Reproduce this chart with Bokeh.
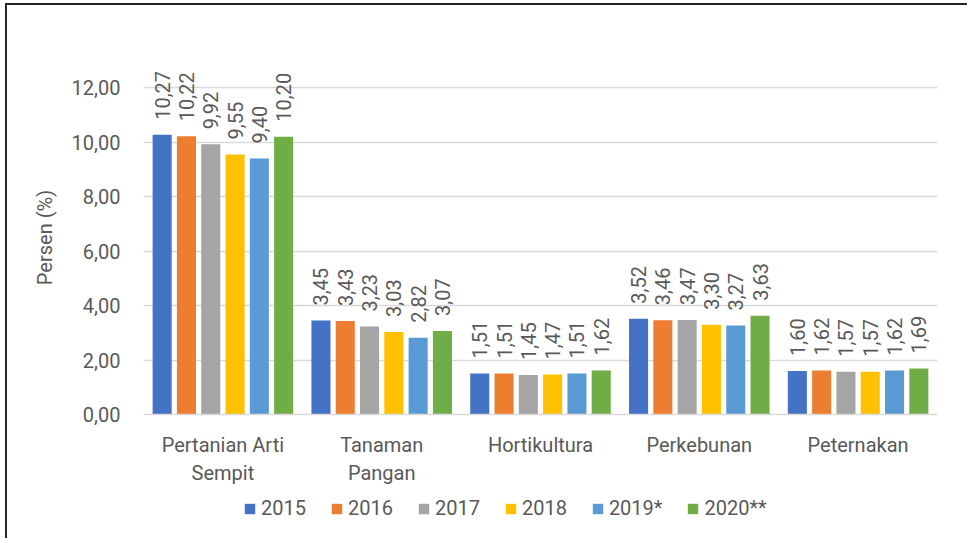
import math
from bokeh.plotting import figure
from bokeh.layouts import column
from bokeh.models import ColumnDataSource, FactorRange, Range1d, FixedTicker, Legend, LegendItem
from bokeh.transform import dodge
from bokeh.core.properties import value
from bokeh.embed import file_html
from bokeh.resources import INLINE

categories = ["Pertanian Arti\nSempit", "Tanaman\nPangan", "Hortikultura", "Perkebunan", "Peternakan"]
years = ["2015", "2016", "2017", "2018", "2019*", "2020**"]
v2015 = [10.27, 3.45, 1.51, 3.52, 1.60]
v2016 = [10.22, 3.43, 1.51, 3.46, 1.62]
v2017 = [9.92, 3.23, 1.45, 3.47, 1.57]
v2018 = [9.55, 3.03, 1.47, 3.30, 1.57]
v2019 = [9.40, 2.82, 1.51, 3.27, 1.62]
v2020 = [10.20, 3.07, 1.62, 3.63, 1.69]
y_ticks = [0, 2, 4, 6, 8, 10, 12]
y_tick_labels = ["0,00", "2,00", "4,00", "6,00", "8,00", "10,00", "12,00"]

series = [v2015, v2016, v2017, v2018, v2019, v2020]
colors = ["#4472C4", "#ED7D31", "#A5A5A5", "#FFC000", "#5B9BD5", "#70AD47"]

FONT = "Roboto"
FS = "20px"
TXT = "#595959"

p = figure(width=960, height=489, output_backend="svg", toolbar_location=None,
           x_range=FactorRange(*categories, range_padding=0),
           y_range=Range1d(0, 13.0),
           min_border_left=136, min_border_right=30, min_border_top=55, min_border_bottom=80)
p.outline_line_color = None
p.xgrid.grid_line_color = None
p.ygrid.grid_line_color = "#D9D9D9"
p.ygrid.grid_line_width = 1.5

p.yaxis.ticker = FixedTicker(ticks=y_ticks)
p.yaxis.major_label_overrides = {t: l for t, l in zip(y_ticks, y_tick_labels)}
p.yaxis.axis_line_color = None
p.yaxis.major_tick_line_color = None
p.yaxis.major_tick_out = 0
p.yaxis.major_tick_in = 0
p.yaxis.minor_tick_line_color = None
p.yaxis.major_label_standoff = 23
p.yaxis.major_label_text_font = FONT
p.yaxis.major_label_text_font_size = FS
p.yaxis.major_label_text_color = TXT
p.yaxis.axis_label = "Persen (%)"
p.yaxis.axis_label_text_font = FONT
p.yaxis.axis_label_text_font_size = FS
p.yaxis.axis_label_text_font_style = "normal"
p.yaxis.axis_label_text_color = TXT
p.yaxis.axis_label_standoff = 12

p.xaxis.axis_line_color = "#D9D9D9"
p.xaxis.axis_line_width = 1.5
p.xaxis.major_tick_line_color = None
p.xaxis.major_tick_out = 0
p.xaxis.major_tick_in = 0
p.xaxis.minor_tick_line_color = None
p.xaxis.major_label_standoff = 18
p.xaxis.major_label_text_font = FONT
p.xaxis.major_label_text_font_size = FS
p.xaxis.major_label_text_color = TXT

# legend strip: same series drawn out of view, only the legend shows
lg = figure(width=960, height=44, output_backend="svg", toolbar_location=None,
            x_range=FactorRange(*categories, range_padding=0), y_range=Range1d(100, 101),
            x_axis_type=None, y_axis_type=None,
            min_border_left=0, min_border_right=0, min_border_top=0, min_border_bottom=0)
lg.outline_line_color = None
lg.grid.visible = False

step = 0.153
items = []
for j, (yr, vals, col) in enumerate(zip(years, series, colors)):
    src = ColumnDataSource(dict(cat=categories, val=vals,
                                lab=[f"{v:.2f}".replace(".", ",") for v in vals]))
    off = (j - 2.5) * step
    p.vbar(x=dodge("cat", off, range=p.x_range), top="val", width=0.12, source=src,
           fill_color=col, line_color=None)
    p.text(x=dodge("cat", off, range=p.x_range), y="val", text="lab", source=src,
           angle=math.pi / 2, text_align="left", text_baseline="middle", y_offset=-15,
           text_font=value(FONT), text_font_size=FS, text_color=TXT)
    r = lg.vbar(x=dodge("cat", off, range=lg.x_range), top="val", width=0.12, source=src,
                fill_color=col, line_color=None)
    items.append(LegendItem(label=yr, renderers=[r]))

legend = Legend(items=items, orientation="horizontal", location=(100, 18),
                glyph_width=13, glyph_height=13, label_standoff=5, spacing=24,
                padding=0, margin=0, border_line_color=None, background_fill_alpha=0,
                label_text_font=FONT, label_text_font_size=FS, label_text_color=TXT,
                label_height=22)
lg.add_layout(legend, "center")

layout = column(p, lg, spacing=0)
layout.styles = {"border-top": "2px solid #262626", "border-left": "2px solid #262626",
                 "margin-left": "5px", "margin-top": "3px"}

open("out.html", "w").write(file_html(layout, INLINE))
